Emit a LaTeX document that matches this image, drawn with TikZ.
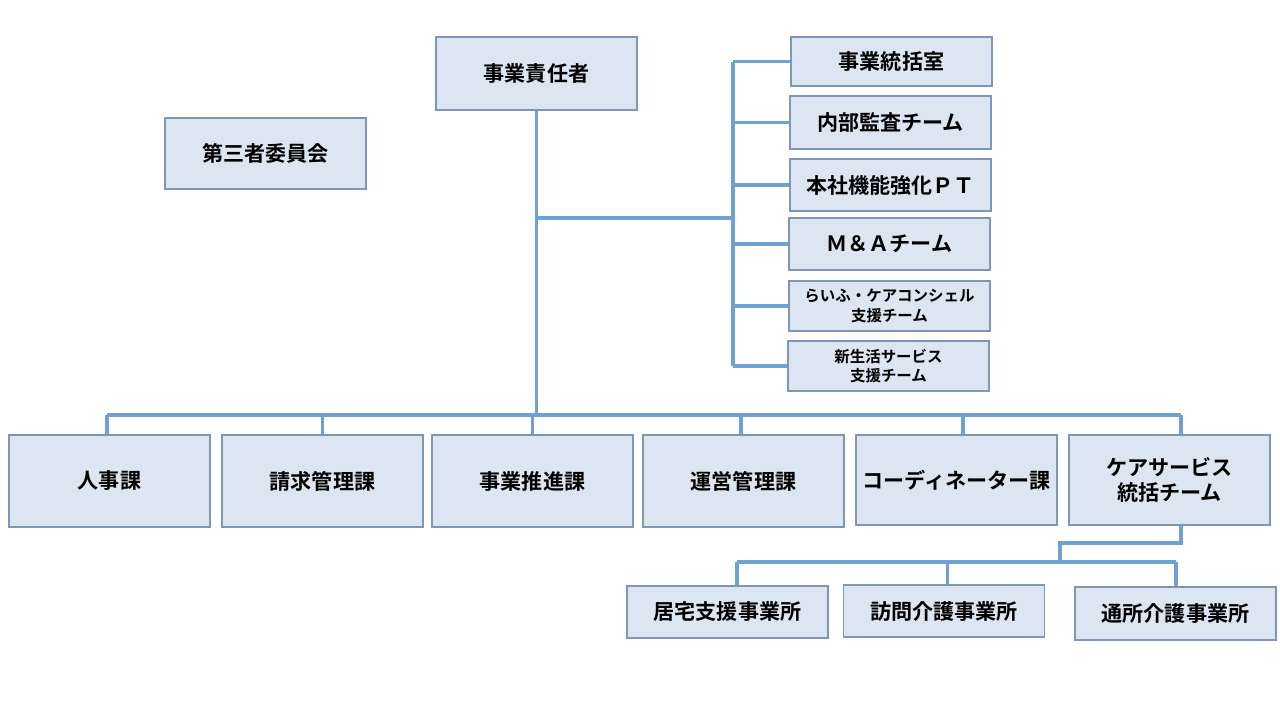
\documentclass[tikz,border=0pt]{standalone}
\usepackage{fontspec}
\setmainfont{Noto Sans CJK JP}[BoldFont={Noto Sans CJK JP Bold}]
\definecolor{boxfill}{HTML}{DCE6F2}
\definecolor{boxline}{HTML}{7F96B4}
\definecolor{connc}{HTML}{6FA1D3}
\tikzset{
  box/.style={draw=boxline, line width=0.9pt, fill=boxfill, inner sep=0pt,
    minimum width=4.02cm, align=center, font=\bfseries\fontsize{12}{14.2}\selectfont},
  smallbox/.style={box, font=\bfseries\fontsize{8.8}{11.2}\selectfont},
  conn/.style={draw=connc, line width=2.2pt, line join=miter},
}
\begin{document}
\begin{tikzpicture}[x=0.02cm,y=-0.02cm]
\useasboundingbox[fill=white] (0,0) rectangle (1280,720);
% top
\node[box, minimum height=1.46cm] (boss) at (536.5,73.5) {事業責任者};
\node[box, minimum height=1.42cm] (third) at (265.5,153.5) {第三者委員会};
% right column
\node[box, minimum height=0.98cm] (r1) at (891.5,61.5) {事業統括室};
\node[box, minimum height=1.06cm] (r2) at (890.5,122.5) {内部監査チーム};
\node[box, minimum height=1.04cm] (r3) at (890.5,185) {本社機能強化ＰＴ};
\node[box, minimum height=1.04cm] (r4) at (889.5,244) {Ｍ＆Ａチーム};
\node[smallbox, minimum height=1.00cm] (r5) at (889.5,306) {らいふ・ケアコンシェル\\支援チーム};
\node[smallbox, minimum height=1.00cm] (r6) at (888.5,366) {新生活サービス\\支援チーム};
% bottom row
\node[box, minimum height=1.84cm] (b1) at (109.5,481) {人事課};
\node[box, minimum height=1.84cm] (b2) at (322.5,481) {請求管理課};
\node[box, minimum height=1.84cm] (b3) at (532.5,481) {事業推進課};
\node[box, minimum height=1.84cm] (b4) at (743.5,481) {運営管理課};
\node[box, minimum height=1.80cm] (b5) at (956.5,480) {コーディネーター課};
\node[box, minimum height=1.80cm] (b6) at (1169.5,480) {ケアサービス\\統括チーム};
% offices
\node[box, minimum height=1.04cm] (o1) at (727.5,612) {居宅支援事業所};
\node[box, minimum height=1.04cm] (o2) at (944,611) {訪問介護事業所};
\node[box, minimum height=1.06cm] (o3) at (1175.5,613.5) {通所介護事業所};
% helper coordinates
\coordinate (bbus) at (0,415);
\coordinate (rbus) at (733,218);
\coordinate (cstep) at (1060,543);
\coordinate (obus) at (0,562);
% connectors
\draw[conn] (boss.south) -- (boss.south |- bbus);
\draw[conn] (boss.south |- rbus) -- (rbus);
\draw[conn] (rbus |- r1.west) -- (rbus |- r6.west);
\foreach \n in {r1,r2,r3,r4,r5,r6}{\draw[conn] (rbus |- \n.west) -- (\n.west);}
\draw[conn] ([xshift=-1.5]b1.north |- bbus) -- ([xshift=6.5]b6.north |- bbus);
\foreach \n/\s in {b1/-1.5,b2/0,b3/0,b4/-1.5,b5/3.5,b6/6.5}{\draw[conn] ([xshift=\s]\n.north) -- ([xshift=\s]\n.north |- bbus);}
\draw[conn] ([xshift=6.5]b6.south) -- ([xshift=6.5]b6.south |- cstep) -- (cstep) -- (cstep |- obus);
\draw[conn] ([xshift=5.5]o1.north |- obus) -- ([xshift=0.5]o3.north |- obus);
\foreach \n/\s in {o1/5.5,o2/2,o3/0.5}{\draw[conn] ([xshift=\s]\n.north |- obus) -- ([xshift=\s]\n.north);}
\end{tikzpicture}
\end{document}
